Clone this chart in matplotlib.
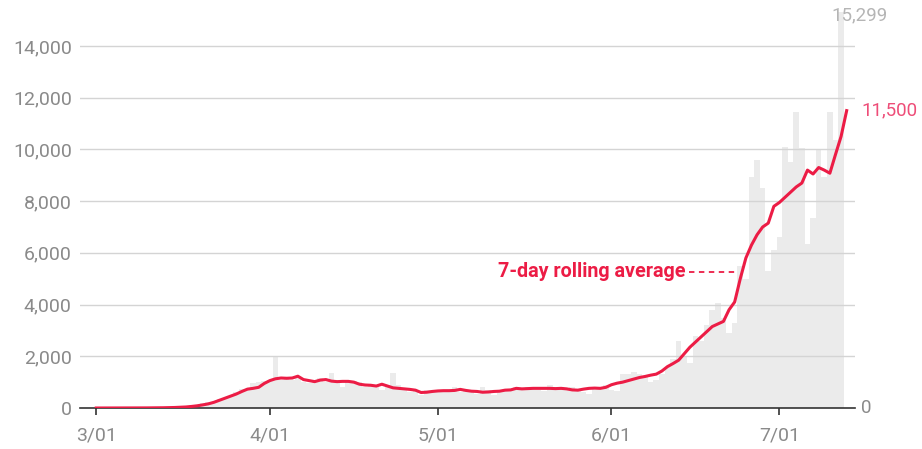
import datetime as dt
import matplotlib
matplotlib.use("Agg")
import matplotlib.pyplot as plt

plt.rcParams['font.family'] = ['Roboto', 'DejaVu Sans']

start = dt.date(2020, 3, 1)

# daily new cases, 3/01 .. 7/12
daily = [
    # March
    2, 0, 1, 2, 2, 3, 4, 5, 4, 4, 7, 8, 11, 24, 30, 40, 58, 100, 130, 180,
    230, 240, 340, 380, 450, 600, 750, 700, 950, 1000, 1050,
    # April
    1100, 2000, 1100, 1200, 1100, 1200, 1000, 950, 1100, 1150, 1000, 1350, 1100, 800, 1000,
    1050, 1000, 800, 900, 850, 700, 800, 1350, 900, 700, 600, 650, 500, 700, 700,
    # May
    600, 700, 650, 800, 600, 650, 700, 550, 800, 700, 500, 600, 650, 700, 800, 750,
    800, 700, 700, 650, 900, 800, 750, 700, 800, 700, 600, 550, 750, 800, 900,
    # June
    700, 650, 1300, 1300, 1400, 1300, 1200, 1000, 1100, 1300, 1600, 1900, 2600, 2000, 1750,
    2800, 2600, 3200, 3800, 4050, 3500, 2900, 3300, 5500, 5000, 8950, 9600, 8500, 5300, 6100,
    # July
    6600, 10100, 9500, 11450, 10050, 6350, 7350, 10000, 8950, 11450, 10350, 15299,
]

# 7-day rolling average as drawn
rolling = [
    # March
    0, 0, 0, 1, 1, 2, 2, 3, 3, 4, 5, 7, 10, 14, 20, 28, 40, 60, 85, 120, 160,
    220, 300, 380, 460, 540, 640, 730, 760, 800, 950,
    # April
    1060, 1130, 1160, 1150, 1160, 1230, 1100, 1060, 1020, 1080, 1100, 1040, 1020, 1030, 1030,
    1000, 920, 890, 880, 850, 920, 850, 780, 760, 740, 720, 690, 600, 610, 640,
    # May
    660, 670, 670, 680, 720, 680, 650, 640, 610, 620, 640, 650, 690, 700, 760, 740,
    750, 760, 760, 760, 760, 750, 760, 740, 700, 690, 730, 760, 770, 760, 800,
    # June
    900, 960, 1000, 1060, 1120, 1180, 1220, 1270, 1310, 1430, 1600, 1720, 1850, 2100, 2350,
    2550, 2750, 2950, 3150, 3250, 3350, 3800, 4100, 5000, 5800, 6300, 6700, 7000, 7150, 7800,
    # July
    7950, 8150, 8350, 8550, 8700, 9200, 9050, 9300, 9200, 9080, 9800, 10500, 11500,
]

tick_labels = ['3/01', '4/01', '5/01', '6/01', '7/01']
tick_dates = [dt.date(2020, 3, 1), dt.date(2020, 4, 1), dt.date(2020, 5, 1),
              dt.date(2020, 6, 1), dt.date(2020, 7, 1)]

days = list(range(len(daily)))
day_r = list(range(len(rolling)))
tick_pos = [(d - start).days for d in tick_dates]

red = '#ec1c45'
grey_txt = '#8a8a8a'

fig = plt.figure(figsize=(9.22, 4.49), dpi=100)
ax = fig.add_axes([0.0868, 0.0913, 0.8406, 0.8869])

ax.bar(days, daily, width=1.0, color='#ebebeb', zorder=1)
for v in range(2000, 16000, 2000):
    ax.axhline(v, color='#d4d4d4', lw=1, zorder=1.5)
ax.plot(day_r, rolling, color=red, lw=2.2, zorder=3, solid_joinstyle='round')

ax.set_xlim(-2.9, 135.5)
ax.set_ylim(0, 15400)
ax.set_yticks(range(0, 16000, 2000))
ax.set_yticklabels([f'{v:,}' for v in range(0, 16000, 2000)])
ax.set_xticks(tick_pos)
ax.set_xticklabels(tick_labels)

for s in ['top', 'right', 'left']:
    ax.spines[s].set_visible(False)
ax.spines['bottom'].set_color('#333333')
ax.spines['bottom'].set_linewidth(1.2)
ax.tick_params(axis='y', length=0, pad=6, labelsize=14, labelcolor=grey_txt)
ax.tick_params(axis='x', length=5, width=1.2, color='#333333', pad=8,
               labelsize=14, labelcolor=grey_txt)

# annotations
ax.text(105.3, 5260, '7-day rolling average', color=red, fontsize=14.2,
        fontweight='bold', ha='right', va='center', zorder=4)
ax.plot([105.8, 114.3], [5260, 5260], color=red, lw=1.3, ls=(0, (3, 2.5)), zorder=4)

ax.text(1.008, 11500, '11,500', color='#ee4d78', fontsize=13.5, va='center', ha='left',
        transform=ax.get_yaxis_transform())
ax.text(131.2, 15200, '15,299', color='#b5b5b5', fontsize=13.5, va='center', ha='left')
ax.text(1.008, 0, '0', color=grey_txt, fontsize=13.5, va='center', ha='left',
        transform=ax.get_yaxis_transform())

fig.savefig('out.png', dpi=100)
